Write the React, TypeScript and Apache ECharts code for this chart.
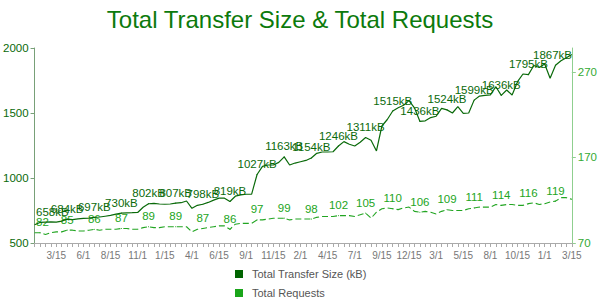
import React, { useEffect, useRef } from "react";
import * as echarts from "echarts";

const categories = [
  "1/15","2/1","2/15","3/1","3/15","4/1","4/15","5/1","5/15","6/1",
  "6/15","7/1","7/15","8/1","8/15","9/1","9/15","10/1","10/15","11/1",
  "11/15","12/1","12/15","1/1","1/15","2/1","2/15","3/1","3/15","4/1",
  "4/15","5/1","5/15","6/1","6/15","7/1","7/15","8/1","8/15","9/1",
  "9/15","10/1","10/15","11/1","11/15","12/1","12/15","1/1","1/15","2/1",
  "2/15","3/1","3/15","4/1","4/15","5/1","5/15","6/1","6/15","7/1",
  "7/15","8/1","8/15","9/1","9/15","10/1","10/15","11/15","12/1","12/15",
  "1/1","1/15","2/1","2/15","3/1","3/15","4/1","4/15","5/1","5/15",
  "6/1","6/15","7/1","7/15","8/1","8/15","9/1","9/15","10/1","10/15",
  "11/1","11/15","12/1","12/15","1/1","1/15","2/1","2/15","3/1","3/15",
];

const transferSizeKB = [
  640, 658, 660, 662, 660, 668, 684, 680, 685, 690,
  692, 697, 700, 706, 712, 722, 730, 732, 733, 735,
  775, 802, 805, 800, 798, 800, 807, 810, 823, 767,
  790, 798, 812, 830, 845, 845, 819, 860, 870, 875,
  876, 1027, 1090, 1100, 1100, 1120, 1163, 1100, 1115, 1125,
  1135, 1154, 1190, 1200, 1200, 1202, 1246, 1280, 1260, 1246,
  1275, 1311, 1290, 1208, 1400, 1450, 1515, 1540, 1560, 1595,
  1540, 1436, 1440, 1465, 1475, 1536, 1524, 1500, 1549, 1497,
  1500, 1599, 1630, 1635, 1640, 1702, 1636, 1677, 1638, 1741,
  1800, 1795, 1865, 1850, 1877, 1767, 1867, 1902, 1925, 1950,
];

const totalRequests = [
  82, 82, 80, 82, 83, 83, 85, 85, 84, 84,
  85, 86, 85, 86, 86, 86, 87, 87, 86, 86,
  88, 89, 88, 88, 89, 89, 89, 89, 89, 83,
  86, 87, 88, 89, 90, 90, 86, 92, 93, 93,
  93, 97, 97, 98, 99, 99, 99, 97, 98, 98,
  98, 98, 100, 101, 101, 101, 102, 102, 102, 101,
  103, 105, 99, 106, 110, 111, 110, 109, 111, 112,
  107, 106, 107, 106, 104, 107, 109, 108, 108, 108,
  110, 111, 112, 112, 112, 115, 114, 115, 115, 114,
  114, 116, 117, 115, 116, 118, 119, 123, 123, 121,
];

const leftTicks = [500, 1000, 1500, 2000];
const rightTicks = [70, 170, 270];

const SIZE_NAME = "Total Transfer Size (kB)";
const REQ_NAME = "Total Requests";
const FONT = "'Liberation Sans', Arial, Helvetica, sans-serif";
const DARK = "#0a6a0a";
const LIGHT = "#22a522";

function withLabels(values: number[]) {
  return values.map((v, i) =>
    i % 5 === 1
      ? { value: v, symbol: "circle", symbolSize: 1, label: { show: true } }
      : v
  );
}

function clampLabel(params: any) {
  const r = params.labelRect;
  if (r.x < 36) return { dx: 36 - r.x };
  if (r.x + r.width > 572) return { dx: 572 - (r.x + r.width) };
  return {};
}

export default function App() {
  const ref = useRef<HTMLDivElement>(null);
  useEffect(() => {
    if (!ref.current) return;
    const chart = echarts.init(ref.current, null, { renderer: "svg" });
    chart.setOption({
      animation: false,
      textStyle: { fontFamily: FONT },
      title: {
        text: "Total Transfer Size & Total Requests",
        left: "center",
        top: 2,
        textStyle: { color: "#0c7a0c", fontSize: 24, fontWeight: "normal", fontFamily: FONT },
      },
      legend: {
        orient: "vertical",
        left: 235,
        top: 268,
        padding: 0,
        icon: "rect",
        itemWidth: 8,
        itemHeight: 8,
        itemGap: 7,
        align: "left",
        textStyle: { color: "#555", fontSize: 11, lineHeight: 12, fontFamily: FONT, padding: [0, 0, 0, 4] },
        data: [
          { name: SIZE_NAME, itemStyle: { color: "#006400" } },
          { name: REQ_NAME, itemStyle: { color: "#1aa51a" } },
        ],
      },
      grid: { left: 33, right: 27, top: 48, bottom: 57 },
      xAxis: {
        type: "category",
        data: categories,
        boundaryGap: false,
        axisLine: { lineStyle: { color: "#aaa" } },
        axisTick: { show: true, interval: 0, length: 4, lineStyle: { color: "#aaa" } },
        axisLabel: {
          interval: (i: number) => i % 5 === 4,
          color: "#777",
          fontSize: 10,
          margin: 7,
          fontFamily: FONT,
        },
        splitLine: { show: false },
      },
      yAxis: [
        {
          type: "value",
          position: "left",
          min: 500,
          max: 2000,
          interval: 500,
          axisLine: { show: true, lineStyle: { color: "#78a078" } },
          axisTick: { show: true, length: 4, lineStyle: { color: "#78a078" }, customValues: leftTicks },
          axisLabel: {
            color: DARK,
            fontSize: 11.5,
            margin: 6,
            fontFamily: FONT,
            customValues: leftTicks,
            formatter: (v: number) => String(v),
          },
          splitLine: { show: false },
        },
        {
          type: "value",
          position: "right",
          min: 70,
          max: 298,
          axisLine: { show: true, lineStyle: { color: "#8fcf8f" } },
          axisTick: { show: true, length: 4, lineStyle: { color: "#8fcf8f" }, customValues: rightTicks },
          axisLabel: {
            color: "#33aa33",
            fontSize: 11.5,
            margin: 6,
            fontFamily: FONT,
            customValues: rightTicks,
            formatter: (v: number) => String(v),
          },
          splitLine: { show: false },
        },
      ],
      series: [
        {
          name: SIZE_NAME,
          type: "line",
          yAxisIndex: 0,
          data: withLabels(transferSizeKB),
          symbol: "none",
          showSymbol: true,
          showAllSymbol: true,
          color: DARK,
          lineStyle: { color: DARK, width: 1.2 },
          itemStyle: { color: DARK },
          label: {
            show: false,
            position: "top",
            distance: 4,
            formatter: "{c}kB",
            color: DARK,
            fontSize: 11.5,
            fontFamily: FONT,
          },
          labelLayout: clampLabel,
          z: 3,
        },
        {
          name: REQ_NAME,
          type: "line",
          yAxisIndex: 1,
          data: withLabels(totalRequests),
          symbol: "none",
          showSymbol: true,
          showAllSymbol: true,
          color: LIGHT,
          lineStyle: { color: LIGHT, width: 1.1, type: [6, 3] },
          itemStyle: { color: LIGHT },
          label: {
            show: false,
            position: "top",
            distance: 4,
            formatter: "{c}",
            color: LIGHT,
            fontSize: 11.5,
            fontFamily: FONT,
          },
          labelLayout: clampLabel,
          z: 2,
        },
      ],
    });
    return () => chart.dispose();
  }, []);
  return (
    <div
      ref={ref}
      style={{ position: "fixed", left: 0, top: 0, width: 600, height: 300, background: "#fff" }}
    />
  );
}
